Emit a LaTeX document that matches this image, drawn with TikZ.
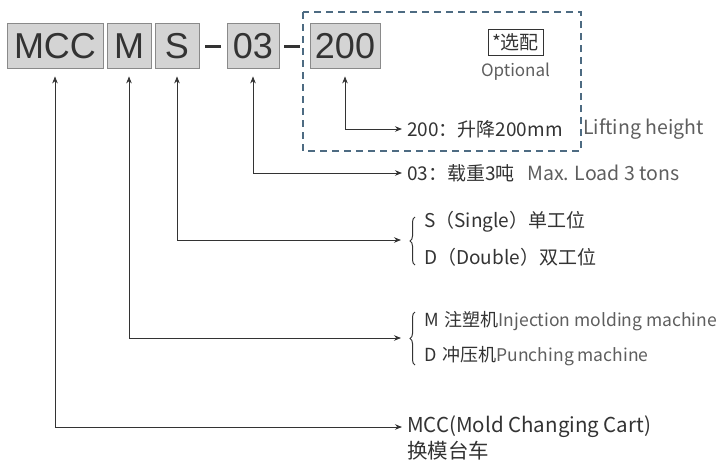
\documentclass[tikz,border=0pt]{standalone}
\usepackage{fontspec}
\newfontfamily\cjk{Noto Sans CJK SC}
\newfontfamily\codefont{Liberation Sans}
\usepackage{tikz}
\usetikzlibrary{positioning}
\usetikzlibrary{arrows.meta}
\usetikzlibrary{decorations.pathreplacing}
\definecolor{boxgray}{HTML}{D4D4D4}
\definecolor{edgegray}{HTML}{8A8A8A}
\definecolor{ink}{HTML}{333333}
\definecolor{softink}{HTML}{5E5E5E}
\definecolor{frameblue}{HTML}{4D6B82}
\newcommand\fsz[1]{\fontsize{#1}{#1}\selectfont}

\begin{document}
\begin{tikzpicture}[x=1pt,y=-1pt,
  code/.style={draw=edgegray,fill=boxgray,line width=0.8pt,text=ink,
    font=\codefont\fsz{36},minimum height=45pt,
    inner sep=0pt,text height=26pt,text depth=0pt},
  lbl/.style={font=\cjk\fsz{19},text=ink,
    inner xsep=5pt,inner ysep=0pt,anchor=west},
  en/.style={lbl,text=softink},
  arr/.style={draw=ink,line width=0.8pt,
    {Stealth[length=7pt,width=5.5pt]}-{Stealth[length=7pt,width=5.5pt]}},
  brc/.style={draw=ink,line width=1pt,decorate,
    decoration={brace,amplitude=5pt}}]
\useasboundingbox (0,0) rectangle (725,461);

% code boxes
\node[code,minimum width=96pt] (mcc) at (55,45.5) {MCC};
\node[code,minimum width=44pt] (m) at (129,45.5) {M};
\node[code,minimum width=44pt] (s) at (177,45.5) {S};
\node[code,minimum width=52pt] (load) at (253,45.5) {03};
\node[code,minimum width=70pt] (hgt) at (345,45.5) {200};
\draw[ink,line width=3pt] (205,46) -- (221,46);
\draw[ink,line width=3pt] (284,46) -- (300,46);

% optional part
\draw[frameblue,line width=1.1pt,dash pattern=on 7pt off 5pt]
  (303,12) rectangle (581,151);
\node[draw=ink,line width=0.8pt,font=\cjk\fsz{19},
  text=ink,minimum width=55pt,minimum height=26pt,inner sep=0pt]
  (opt) at (515.5,42) {*选配};
\node[font=\cjk\fsz{17},text=softink,inner sep=0pt,
  below=7pt of opt] (opten) {Optional};

% labels
\node[lbl] (hgtl) at (402,129) {200：升降200mm};
\node[en,font=\cjk\fsz{19.5},anchor=west] at (578,129) {Lifting height};
\node[lbl] (loadl) at (402,173) {03：载重3吨};
\node[en,font=\cjk\fsz{19.5},right=2pt of loadl] {Max. Load 3 tons};

\node[lbl] (s1) at (419,222) {S（Single）单工位};
\node[lbl] (s2) at (419,257) {D（Double）双工位};
\draw[brc] (415,265) -- (415,217);
\coordinate (sin) at (401,240);

\node[lbl,font=\cjk\fsz{18}] (m1) at (419,321)
  {M\hspace{6pt}注塑机\textcolor{softink}{\fsz{17.5}Injection molding machine}};
\node[lbl,font=\cjk\fsz{18}] (m2) at (419,356)
  {D\hspace{6pt}冲压机\textcolor{softink}{\fsz{17.5}Punching machine}};
\draw[brc] (415,365) -- (415,312);
\coordinate (min) at (401,338);

\node[lbl,font=\cjk\fsz{20.5}] (mccl) at (402,427) {MCC(Mold Changing Cart)};
\node[lbl,font=\cjk\fsz{20.5},anchor=north west,yshift=-3pt]
  (mcccn) at (mccl.south west) {换模台车};

% connectors
\draw[arr] ([yshift=-8pt]hgt.south) |- (hgtl.west);
\draw[arr] ([yshift=-8pt]load.south) |- (loadl.west);
\draw[arr] ([yshift=-8pt]s.south) |- (sin);
\draw[arr] ([yshift=-8pt]m.south) |- (min);
\draw[arr] ([yshift=-8pt]mcc.south) |- (mccl.west);
\end{tikzpicture}
\end{document}
